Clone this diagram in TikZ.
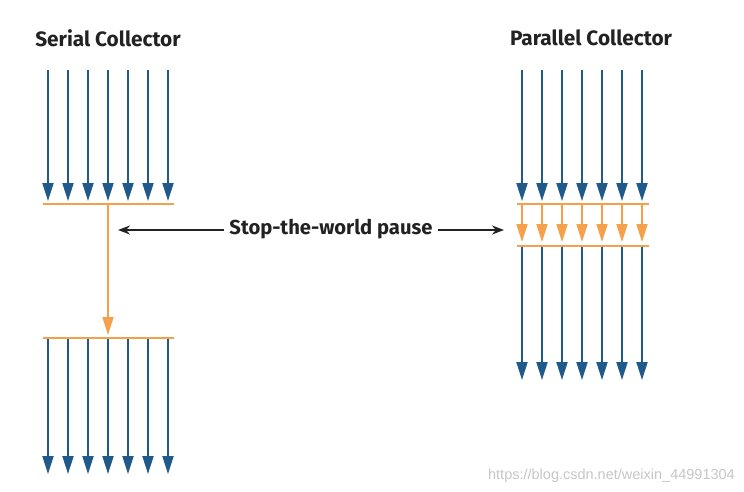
\documentclass[tikz,border=0pt]{standalone}
\usepackage{fontspec}
\setmainfont{Fira Sans}
\newfontfamily\wmfont{Liberation Sans}
\usetikzlibrary{arrows.meta}
\definecolor{gcblue}{HTML}{1F5A8A}
\definecolor{gcorange}{HTML}{F5A04A}
\definecolor{gctext}{HTML}{222222}
\begin{document}
\begin{tikzpicture}[x=1pt,y=-1pt,
  bluearrow/.style={draw=gcblue, line width=2pt, -{Triangle[length=18pt,width=11pt]}},
  orangearrow/.style={draw=gcorange, line width=1.6pt, -{Triangle[length=18pt,width=11pt]}},
  orangebar/.style={draw=gcorange, line width=1.6pt},
  blackarrow/.style={draw=gctext, line width=1.8pt, -{Stealth[length=12pt,width=9pt]}},
  titletext/.style={font=\bfseries\fontsize{20.8}{24}\selectfont, text=gctext, inner sep=0pt},
  pausetext/.style={font=\bfseries\fontsize{20.2}{23}\selectfont, text=gctext, inner ysep=2pt, inner xsep=5pt},
  watermark/.style={font=\wmfont\fontsize{14.5}{17}\selectfont, text=black!22, inner sep=0pt, anchor=base east}]
\fill[white] (0,0) rectangle (744,491);
\useasboundingbox (0,0) rectangle (744,491);

% titles
\node[titletext] (serialtitle) at (108,38) {Serial Collector};
\node[titletext] (paralleltitle) at (591,38) {Parallel Collector};

% ---------- Serial collector ----------
\coordinate (sbar1L) at (43,204);
\coordinate (sbar1R) at (174,204);
\coordinate (sbar2L) at (43,338);
\coordinate (sbar2R) at (174,338);
\foreach \i in {0,...,6} {
  \pgfmathsetmacro\xx{48+20*\i}
  \coordinate (sta\i) at (\xx,70);
  \coordinate (stb\i) at (\xx,201);
  \draw[bluearrow] (sta\i) -- (stb\i);
  \coordinate (sba\i) at (\xx,338);
  \coordinate (sbb\i) at (\xx,474);
  \draw[bluearrow] (sba\i) -- (sbb\i);
}
\draw[orangebar] (sbar1L) -- (sbar1R);
\draw[orangebar] (sbar2L) -- (sbar2R);
\coordinate (sgcA) at (108,204);
\coordinate (sgcB) at (108,335);
\draw[orangearrow] (sgcA) -- (sgcB);

% ---------- Parallel collector ----------
\coordinate (pbar1L) at (517,204);
\coordinate (pbar1R) at (649,204);
\coordinate (pbar2L) at (517,246);
\coordinate (pbar2R) at (649,246);
\foreach \i in {0,...,6} {
  \pgfmathsetmacro\xx{522+20*\i}
  \coordinate (pta\i) at (\xx,70);
  \coordinate (ptb\i) at (\xx,201);
  \draw[bluearrow] (pta\i) -- (ptb\i);
  \coordinate (pga\i) at (\xx,204);
  \coordinate (pgb\i) at (\xx,242);
  \draw[orangearrow] (pga\i) -- (pgb\i);
  \coordinate (pba\i) at (\xx,246);
  \coordinate (pbb\i) at (\xx,380);
  \draw[bluearrow] (pba\i) -- (pbb\i);
}
\draw[orangebar] (pbar1L) -- (pbar1R);
\draw[orangebar] (pbar2L) -- (pbar2R);

% ---------- Stop-the-world label ----------
\node[pausetext] (pause) at (331,229) {Stop-the-world pause};
\coordinate (pauseL) at (118,230);
\coordinate (pauseR) at (504,230);
\draw[blackarrow] (pause.west |- pauseL) -- (pauseL);
\draw[blackarrow] (pause.east |- pauseR) -- (pauseR);

% watermark
\node[watermark] (wm) at (735,479) {https://blog.csdn.net/weixin\_44991304};
\end{tikzpicture}
\end{document}
